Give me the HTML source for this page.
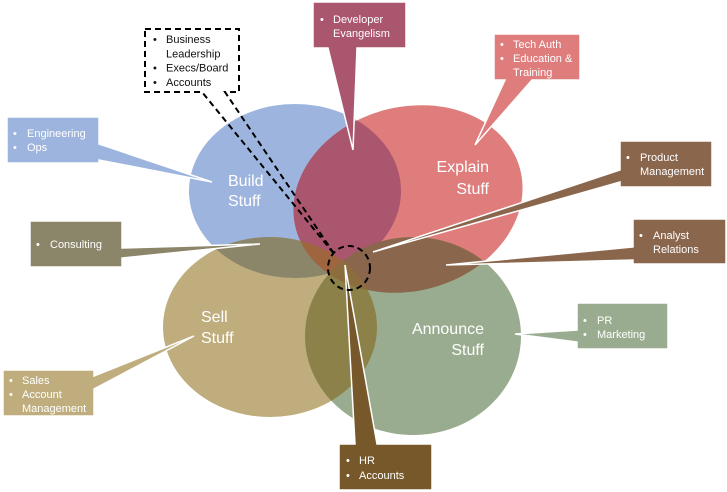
<!DOCTYPE html>
<html>
<head>
<meta charset="utf-8">
<style>
  html, body { margin: 0; padding: 0; background: #ffffff; }
  body { width: 727px; height: 492px; overflow: hidden; }
  svg { display: block; }
  .lbl { font-family: "Liberation Sans", sans-serif; font-size: 16px; fill: #ffffff; }
  .ct { font-family: "Liberation Sans", sans-serif; font-size: 11px; fill: #ffffff; }
  .cb { font-family: "Liberation Sans", sans-serif; font-size: 11px; fill: #111111; }
</style>
</head>
<body>
<svg width="727" height="492" viewBox="0 0 727 492" xmlns="http://www.w3.org/2000/svg">
  <defs>
    <clipPath id="cB"><ellipse cx="295" cy="191" rx="106" ry="87"/></clipPath>
    <clipPath id="cR"><ellipse cx="408" cy="199" rx="116" ry="92" transform="rotate(-15 408 199)"/></clipPath>
    <clipPath id="cT"><ellipse cx="270" cy="327" rx="107" ry="90"/></clipPath>
    <clipPath id="cG"><ellipse cx="413" cy="336" rx="108" ry="99"/></clipPath>
  </defs>

  <!-- base ellipses -->
  <ellipse cx="295" cy="191" rx="106" ry="87" fill="#9DB5DE"/>
  <ellipse cx="408" cy="199" rx="116" ry="92" transform="rotate(-15 408 199)" fill="#DF7C7C"/>
  <ellipse cx="270" cy="327" rx="107" ry="90" fill="#BFAD7D"/>
  <ellipse cx="413" cy="336" rx="108" ry="99" fill="#9AAC8F"/>

  <!-- overlaps -->
  <g clip-path="url(#cB)">
    <ellipse cx="408" cy="199" rx="116" ry="92" transform="rotate(-15 408 199)" fill="#AA566E"/>
  </g>
  <g clip-path="url(#cR)">
    <ellipse cx="413" cy="336" rx="108" ry="99" fill="#8A664C"/>
  </g>
  <g clip-path="url(#cB)">
    <ellipse cx="270" cy="327" rx="107" ry="90" fill="#8B8569"/>
  </g>
  <g clip-path="url(#cT)">
    <ellipse cx="413" cy="336" rx="108" ry="99" fill="#8C8249"/>
  </g>
  <g clip-path="url(#cR)">
    <ellipse cx="270" cy="327" rx="107" ry="90" fill="#9E653F"/>
  </g>
  <g clip-path="url(#cR)">
    <g clip-path="url(#cT)">
      <ellipse cx="413" cy="336" rx="108" ry="99" fill="#8C6D3D"/>
    </g>
  </g>

  <!-- ellipse labels -->
  <text class="lbl" x="228" y="186">Build</text>
  <text class="lbl" x="228" y="206">Stuff</text>
  <text class="lbl" x="489" y="172" text-anchor="end">Explain</text>
  <text class="lbl" x="489" y="194" text-anchor="end">Stuff</text>
  <text class="lbl" x="201" y="322">Sell</text>
  <text class="lbl" x="201" y="343">Stuff</text>
  <text class="lbl" x="484" y="334" text-anchor="end">Announce</text>
  <text class="lbl" x="484" y="355" text-anchor="end">Stuff</text>

  <!-- callouts -->
  <!-- Engineering / Ops -->
  <path d="M7,117 H99 V144 L212,182 L99,160 V163 H7 Z" fill="#9DB5DE" stroke="#ffffff" stroke-width="1.5"/>
  <text class="ct" x="13" y="137">•</text><text class="ct" x="27" y="137">Engineering</text>
  <text class="ct" x="13" y="151">•</text><text class="ct" x="27" y="151">Ops</text>

  <!-- Developer Evangelism -->
  <path d="M313,2 H406 V48 H357 L353,150 L328,48 H313 Z" fill="#AA566E" stroke="#ffffff" stroke-width="1.5"/>
  <text class="ct" x="320" y="23">•</text><text class="ct" x="333" y="23">Developer</text>
  <text class="ct" x="333" y="37">Evangelism</text>

  <!-- Tech Auth -->
  <path d="M494,34 H580 V80 H532 L475,145 L505,80 H494 Z" fill="#DF7C7C" stroke="#ffffff" stroke-width="1.5"/>
  <text class="ct" x="500" y="48">•</text><text class="ct" x="513" y="48">Tech Auth</text>
  <text class="ct" x="500" y="62">•</text><text class="ct" x="513" y="62">Education &amp;</text>
  <text class="ct" x="513" y="76">Training</text>

  <!-- Product Management -->
  <path d="M620,141 H712 V187 H620 V182 L373,252 L620,170 Z" fill="#8A664C" stroke="#ffffff" stroke-width="1.5"/>
  <text class="ct" x="626" y="161">•</text><text class="ct" x="640" y="161">Product</text>
  <text class="ct" x="640" y="175">Management</text>

  <!-- Analyst Relations -->
  <path d="M633,219 H726 V264 H633 V260 L446,265 L633,247 Z" fill="#8A664C" stroke="#ffffff" stroke-width="1.5"/>
  <text class="ct" x="639" y="239">•</text><text class="ct" x="653" y="239">Analyst</text>
  <text class="ct" x="653" y="253">Relations</text>

  <!-- PR / Marketing -->
  <path d="M577,303 H668 V349 H577 V342 L515,334 L577,330 Z" fill="#9AAC8F" stroke="#ffffff" stroke-width="1.5"/>
  <text class="ct" x="583" y="324">•</text><text class="ct" x="597" y="324">PR</text>
  <text class="ct" x="583" y="338">•</text><text class="ct" x="597" y="338">Marketing</text>

  <!-- Consulting -->
  <path d="M30,221 H122 V248 L260,244 L122,258 V267 H30 Z" fill="#8B8569" stroke="#ffffff" stroke-width="1.5"/>
  <text class="ct" x="36" y="248">•</text><text class="ct" x="50" y="248">Consulting</text>

  <!-- Sales / Account Management -->
  <path d="M3,370 H94 V376 L194,336 L94,389 V416 H3 Z" fill="#BFAD7D" stroke="#ffffff" stroke-width="1.5"/>
  <text class="ct" x="9" y="384">•</text><text class="ct" x="22" y="384">Sales</text>
  <text class="ct" x="9" y="398">•</text><text class="ct" x="22" y="398">Account</text>
  <text class="ct" x="22" y="412">Management</text>

  <!-- HR / Accounts -->
  <path d="M339,444 H355 L345,265 L377,444 H432 V490 H339 Z" fill="#76582A" stroke="#ffffff" stroke-width="1.5"/>
  <text class="ct" x="346" y="464">•</text><text class="ct" x="359" y="464">HR</text>
  <text class="ct" x="346" y="479">•</text><text class="ct" x="359" y="479">Accounts</text>

  <!-- Dashed callout: Business Leadership -->
  <path d="M145,29 H239 V92 H225 L335,255 L202,92 H145 Z" fill="none" stroke="#000000" stroke-width="2" stroke-dasharray="6 4"/>
  <text class="cb" x="153" y="43">•</text><text class="cb" x="166" y="43">Business</text>
  <text class="cb" x="166" y="57.3">Leadership</text>
  <text class="cb" x="153" y="71.6">•</text><text class="cb" x="166" y="71.6">Execs/Board</text>
  <text class="cb" x="153" y="85.9">•</text><text class="cb" x="166" y="85.9">Accounts</text>

  <!-- dashed circle at center -->
  <ellipse cx="349" cy="268" rx="21" ry="22" fill="none" stroke="#000000" stroke-width="2" stroke-dasharray="6 4"/>
</svg>
</body>
</html>
